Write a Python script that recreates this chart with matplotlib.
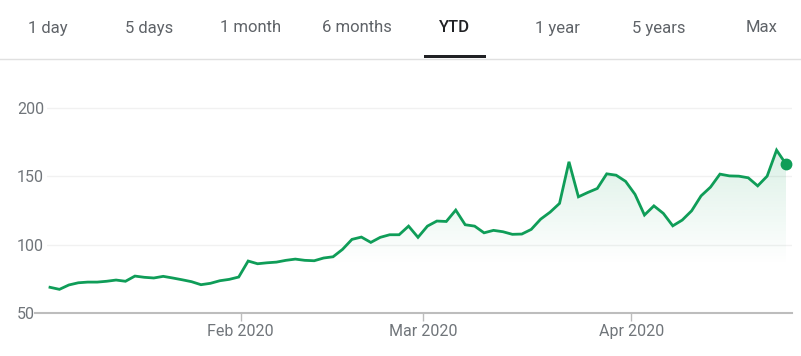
import numpy as np
import pandas as pd
import matplotlib
matplotlib.use("Agg")
import matplotlib.pyplot as plt
from matplotlib.patches import Polygon, Rectangle
from matplotlib.lines import Line2D

plt.rcParams['font.family'] = ['Roboto', 'DejaVu Sans']

# trading days, YTD 2020
holidays = ['2020-01-20', '2020-02-17', '2020-04-10']
dates = pd.bdate_range('2020-01-02', '2020-04-24').drop(pd.to_datetime(holidays))

prices = [69.0, 67.5, 70.7, 72.3, 72.8, 72.8, 73.4, 74.3, 73.4, 77.2,
          76.3, 75.8, 77.0, 75.8, 74.5, 73.1, 70.9, 71.9, 73.8, 74.8,
          76.5, 88.2, 86.2, 86.9, 87.4, 88.7, 89.6, 88.7, 88.4, 90.4,
          91.3, 96.7, 104.0, 105.7, 101.8, 105.5, 107.4, 107.4, 113.7, 105.5,
          113.7, 117.4, 117.1, 125.4, 114.7, 113.7, 108.8, 110.6, 109.6, 107.7,
          107.9, 111.3, 118.8, 123.9, 130.3, 160.7, 135.1, 138.3, 141.2, 151.9,
          150.9, 146.4, 136.9, 121.8, 128.5, 123.0, 113.9, 118.1, 124.9, 135.8,
          142.2, 151.7, 150.4, 150.2, 149.0, 143.1, 150.2, 169.2, 159.0]

tabs = ['1 day', '5 days', '1 month', '6 months', 'YTD', '1 year', '5 years', 'Max']
active_tab = 'YTD'
month_ticks = ['2020-02-01', '2020-03-01', '2020-04-01']
month_labels = ['Feb 2020', 'Mar 2020', 'Apr 2020']
yticks = [50, 100, 150, 200]

green = '#0f9d58'
grey_txt = '#70757a'

W, H = 801, 356
fig = plt.figure(figsize=(W / 100, H / 100), dpi=100)

# axes box in pixels
left, right, top, bottom = 47, 792, 95, 313.3
ax = fig.add_axes([left / W, 1 - bottom / H, (right - left) / W, (bottom - top) / H])

x = np.arange(len(prices))
y = np.array(prices)
ppi = (786 - 50) / (len(x) - 1)
ax.set_xlim(-3 / ppi, x[-1] + 6 / ppi)
ax.set_ylim(50, 209.5)

# gradient fill under the line
ymin, ymax = ax.get_ylim()
grad = np.linspace(ymax, ymin, 256)
alpha = np.clip((grad - 85) / (170 - 85), 0, 1) * 0.15
rgba = np.zeros((256, 1, 4))
rgba[..., :3] = matplotlib.colors.to_rgb(green)
rgba[:, 0, 3] = alpha
im = ax.imshow(rgba, aspect='auto', extent=[x[0], x[-1], ymin, ymax],
               origin='upper', zorder=1, interpolation='bilinear')
verts = np.vstack([[x[0], ymin], np.column_stack([x, y]), [x[-1], ymin]])
clip = Polygon(verts, closed=True, facecolor='none', edgecolor='none', transform=ax.transData)
ax.add_patch(clip)
im.set_clip_path(clip)

for g in yticks[1:]:
    ax.axhline(g, color='#f1f1f1', lw=1, zorder=0)
ax.axhline(50, xmin=-12 / (right - left), xmax=1, color='#bdbdbd', lw=1.5, clip_on=False, zorder=2)

ax.plot(x, y, color=green, lw=2.0, zorder=3, solid_joinstyle='miter')
ax.plot(x[-1], y[-1], 'o', color=green, ms=7.5, zorder=4)

# month ticks, placed in time between trading sessions
t_num = (dates + pd.Timedelta(hours=9, minutes=30)).asi8
tick_pos = np.interp(pd.to_datetime(month_ticks).asi8, t_num, x)
ax.set_xticks(tick_pos)
ax.set_xticklabels(month_labels)
ax.tick_params(axis='x', length=6, width=1, color='#bdbdbd', pad=2,
               labelsize=11.5, labelcolor=grey_txt)

ax.set_yticks(yticks)
ax.set_yticklabels([str(v) for v in yticks], ha='left')
ax.tick_params(axis='y', length=0, pad=21.6, labelsize=11.5, labelcolor=grey_txt)

for s in ax.spines.values():
    s.set_visible(False)

# range tabs on top
tab_x = [48, 149, 251, 357, 455, 557, 659, 762]
for t, tx in zip(tabs, tab_x):
    act = t == active_tab
    fig.text(tx / W, 1 - 28 / H, t, ha='center', va='center', fontsize=12,
             color='#202124' if act else '#5f6368',
             fontweight='medium' if act else 'normal')
    if act:
        fig.add_artist(Rectangle(((tx - 31) / W, 1 - 58 / H), 62 / W, 3 / H,
                                 transform=fig.transFigure, color='#202124', lw=0))
fig.add_artist(Line2D([0, 1], [1 - 58.5 / H, 1 - 58.5 / H], transform=fig.transFigure,
                      color='#e0e0e0', lw=1))

fig.savefig('out.png', dpi=100)
